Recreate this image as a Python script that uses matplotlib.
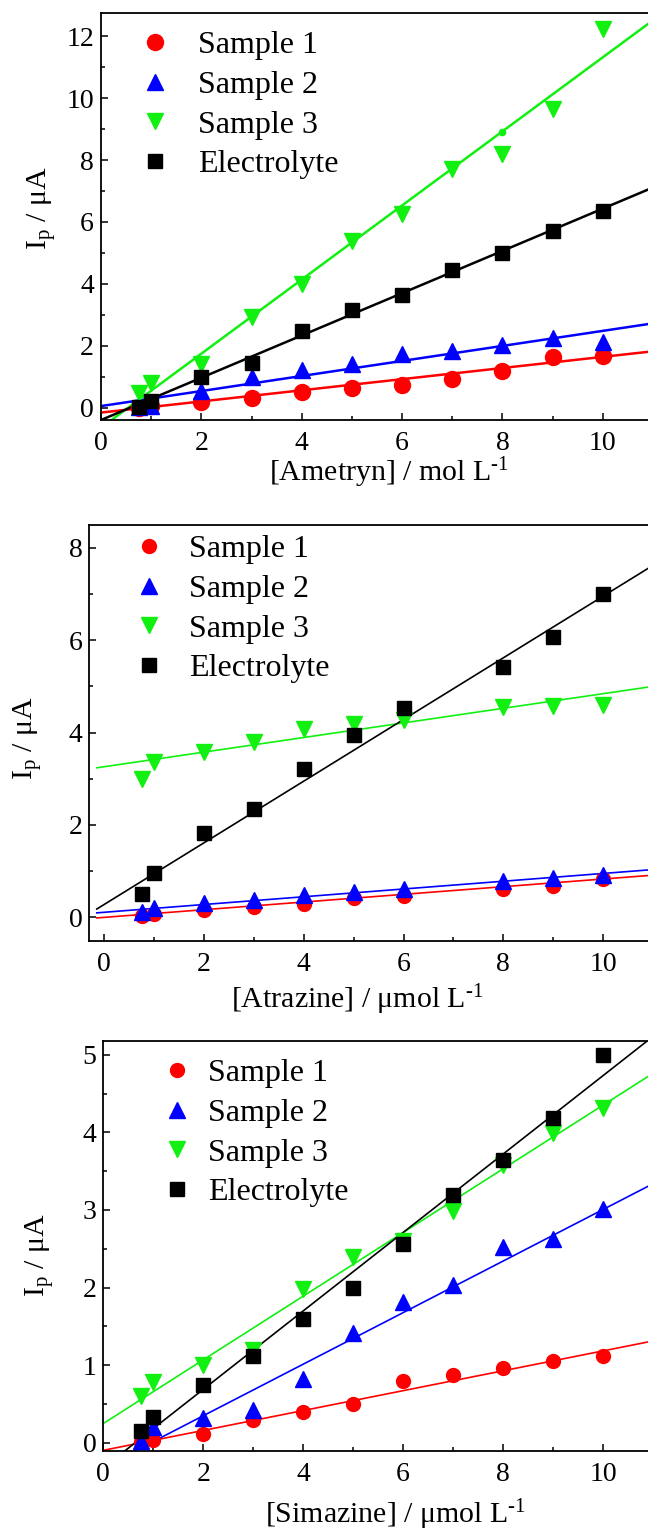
import numpy as np
import matplotlib
matplotlib.use("Agg")
import matplotlib.pyplot as plt
from matplotlib.ticker import MultipleLocator

plt.rcParams["font.family"] = ["Liberation Serif", "DejaVu Serif"]
plt.rcParams["mathtext.fontset"] = "custom"
plt.rcParams["mathtext.rm"] = "Liberation Serif"
plt.rcParams["mathtext.it"] = "Liberation Serif:italic"

series_labels = ["Sample 1", "Sample 2", "Sample 3", "Electrolyte"]
series_colors = ["#ff0000", "#0000ff", "#11f011", "#000000"]
series_markers = ["o", "^", "v", "s"]

# Ametryn
ametryn_conc = [0.75, 1, 2, 3, 4, 5, 6, 7, 8, 9, 10]
ametryn_s1 = [-0.02, 0.05, 0.17, 0.30, 0.50, 0.63, 0.74, 0.94, 1.18, 1.65, 1.68]
ametryn_s2 = [0.03, 0.05, 0.55, 1.00, 1.20, 1.42, 1.72, 1.82, 2.02, 2.25, 2.12]
ametryn_s3 = [0.46, 0.79, 1.40, 2.94, 3.98, 5.38, 6.26, 7.70, 8.18, 9.66, 12.24]
ametryn_el = [0.02, 0.20, 0.98, 1.45, 2.47, 3.15, 3.64, 4.46, 4.98, 5.70, 6.34]
ametryn_slope = [0.180, 0.243, 1.197, 0.683]
ametryn_icpt = [-0.16, 0.05, -0.65, -0.40]
ametryn_fit_point = (8, 8.92)

# Atrazine
atrazine_conc = [0.75, 1, 2, 3, 4, 5, 6, 8, 9, 10]
atrazine_s1 = [0.02, 0.07, 0.16, 0.22, 0.28, 0.42, 0.46, 0.62, 0.68, 0.82]
atrazine_s2 = [0.12, 0.20, 0.30, 0.38, 0.49, 0.55, 0.62, 0.78, 0.85, 0.91]
atrazine_s3 = [2.99, 3.37, 3.58, 3.79, 4.07, 4.19, 4.28, 4.56, 4.57, 4.59]
atrazine_el = [0.50, 0.95, 1.82, 2.34, 3.20, 3.94, 4.53, 5.41, 6.06, 7.00]
atrazine_slope = [0.083, 0.084, 0.158, 0.667]
atrazine_icpt = [0.00, 0.11, 3.26, 0.28]

# Simazine
simazine_conc = [0.75, 1, 2, 3, 4, 5, 6, 7, 8, 9, 10]
simazine_s1 = [0.01, 0.04, 0.11, 0.30, 0.40, 0.50, 0.80, 0.87, 0.96, 1.06, 1.12]
simazine_s2 = [0.02, 0.20, 0.32, 0.42, 0.82, 1.42, 1.82, 2.03, 2.52, 2.63, 3.01]
simazine_s3 = [0.60, 0.78, 1.00, 1.20, 1.98, 2.39, 2.60, 2.99, 3.58, 3.99, 4.31]
simazine_el = [0.16, 0.33, 0.75, 1.12, 1.59, 1.99, 2.56, 3.19, 3.65, 4.18, 5.00]
simazine_slope = [0.128, 0.332, 0.410, 0.505]
simazine_icpt = [-0.095, -0.314, 0.25, -0.32]

W, H = 648, 1532
fig = plt.figure(figsize=(W / 100, H / 100), dpi=100)


def add_axes_px(left, top, right, bottom):
    return fig.add_axes([left / W, 1 - bottom / H, (right - left) / W, (bottom - top) / H])


UNIT = "L$^{\\mathrm{\u20101}}$"

panels = [
    dict(box=(101, 12.7, 648, 420), xlim=(0, 10.9), ylim=(-0.4, 12.76), ymajor=2, yminor=1,
         conc=ametryn_conc, ys=[ametryn_s1, ametryn_s2, ametryn_s3, ametryn_el],
         slope=ametryn_slope, icpt=ametryn_icpt, line_x0=0.0, lw=1.8,
         ms=[11.5, 12, 10.5], xlabel="[Ametryn] / mol " + UNIT,
         xlab_pos=(389, 456), ylab_pos=(41, 208), leg_pos=(133, 31), leg_pad=0.63),
    dict(box=(89.3, 525, 648, 940.7), xlim=(-0.3, 10.9), ylim=(-0.505, 8.49), ymajor=2, yminor=1,
         conc=atrazine_conc, ys=[atrazine_s1, atrazine_s2, atrazine_s3, atrazine_el],
         slope=atrazine_slope, icpt=atrazine_icpt, line_x0=-0.15, lw=1.2,
         ms=[10, 11, 9.5], xlabel="[Atrazine] / \u03bcmol " + UNIT,
         xlab_pos=(357, 983), ylab_pos=(28, 738), leg_pos=(127, 535), leg_pad=0.545),
    dict(box=(103.3, 1040.7, 648, 1450.7), xlim=(0, 10.9), ylim=(-0.1, 5.18), ymajor=1, yminor=0.5,
         conc=simazine_conc, ys=[simazine_s1, simazine_s2, simazine_s3, simazine_el],
         slope=simazine_slope, icpt=simazine_icpt, line_x0=0.0, lw=1.2,
         ms=[10, 11, 9.5], xlabel="[Simazine] / \u03bcmol " + UNIT,
         xlab_pos=(395, 1498), ylab_pos=(40, 1255), leg_pos=(155, 1059), leg_pad=0.26),
]

for i, p in enumerate(panels):
    ax = add_axes_px(*p["box"])
    ax.set_xlim(*p["xlim"])
    ax.set_ylim(*p["ylim"])

    # fitted lines under the points
    xs = np.array([p["line_x0"], p["xlim"][1] + 0.2])
    for k in range(4):
        ax.plot(xs, p["slope"][k] * xs + p["icpt"][k], color=series_colors[k],
                lw=p["lw"], zorder=2)

    handles = []
    sizes = [p["ms"][0], p["ms"][1], p["ms"][1], p["ms"][2]]
    for k in range(4):
        h, = ax.plot(p["conc"], p["ys"][k], ls="none", marker=series_markers[k],
                     ms=sizes[k], color=series_colors[k], mec=series_colors[k],
                     label=series_labels[k], zorder=3)
        handles.append(h)

    if i == 0:
        ax.plot([ametryn_fit_point[0]], [ametryn_fit_point[1]], "o", ms=4.5,
                color=series_colors[2], zorder=3)

    ax.xaxis.set_major_locator(MultipleLocator(2))
    ax.xaxis.set_minor_locator(MultipleLocator(1))
    ax.yaxis.set_major_locator(MultipleLocator(p["ymajor"]))
    ax.yaxis.set_minor_locator(MultipleLocator(p["yminor"]))
    ax.set_xticks([0, 2, 4, 6, 8, 10])
    ax.tick_params(which="both", direction="in", width=1.1, top=False, right=False)
    ax.tick_params(which="major", length=5.3, labelsize=20)
    ax.tick_params(which="minor", length=3.1)
    ax.tick_params(axis="x", which="major", pad=8)
    ax.tick_params(axis="y", which="major", pad=5)
    ax.spines["right"].set_visible(False)
    for s in ("left", "bottom", "top"):
        ax.spines[s].set_linewidth(1.3)

    ax.set_xlabel(p["xlabel"], fontsize=21.5, va="top")
    ax.xaxis.set_label_coords(p["xlab_pos"][0] / W, 1 - p["xlab_pos"][1] / H,
                              transform=fig.transFigure)
    ax.set_ylabel("I$_{\\mathrm{p}}$ / \u03bcA", fontsize=21.5, va="center")
    ax.yaxis.set_label_coords(p["ylab_pos"][0] / W, 1 - p["ylab_pos"][1] / H,
                              transform=fig.transFigure)

    ax.legend(handles=handles, loc="upper left",
              bbox_to_anchor=(p["leg_pos"][0] / W, 1 - p["leg_pos"][1] / H),
              bbox_transform=fig.transFigure, frameon=False, borderpad=0,
              borderaxespad=0, handlelength=1.4, handletextpad=p["leg_pad"],
              labelspacing=0.32, fontsize=23)

fig.savefig("out.png", dpi=100)
